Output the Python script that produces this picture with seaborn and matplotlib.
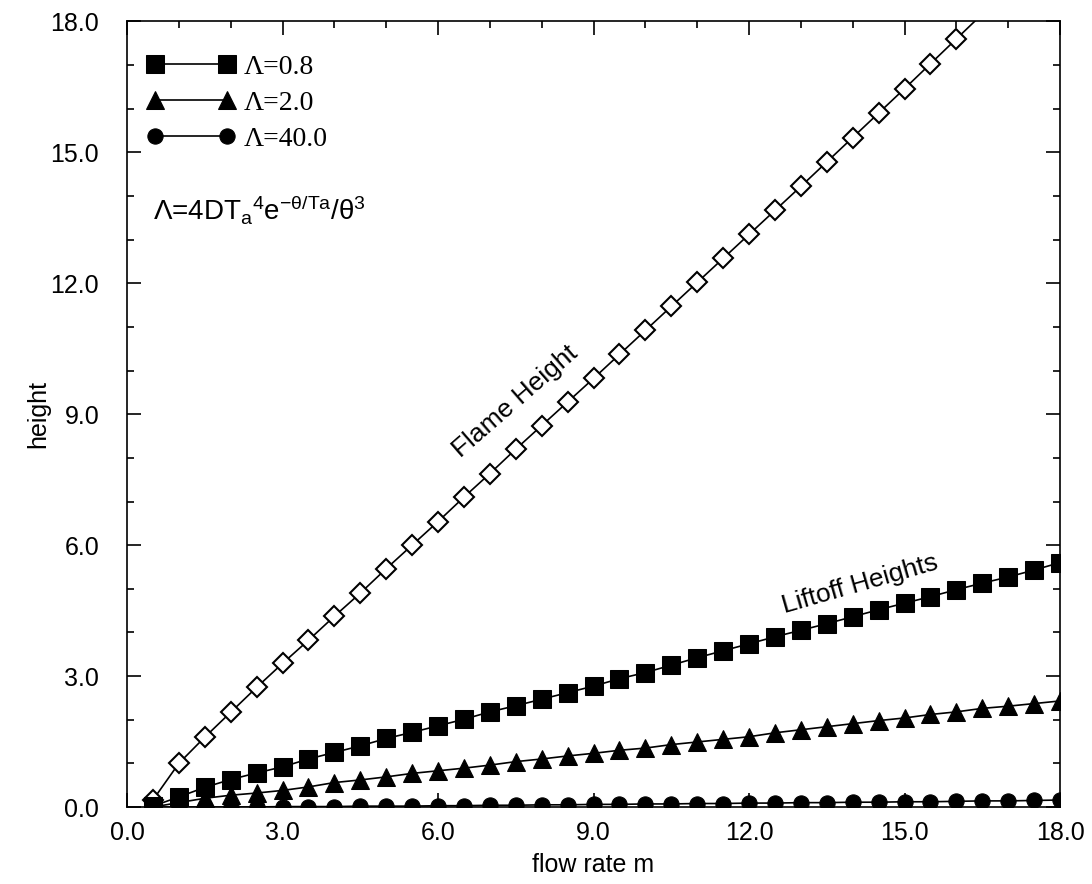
import numpy as np
import pandas as pd
import matplotlib
matplotlib.use('Agg')
import matplotlib.pyplot as plt
import seaborn as sns
from matplotlib.ticker import MultipleLocator, FormatStrFormatter

# flow rate grid (every 0.5)
flow_rate = [0.5, 1.0, 1.5, 2.0, 2.5, 3.0, 3.5, 4.0, 4.5, 5.0, 5.5, 6.0,
             6.5, 7.0, 7.5, 8.0, 8.5, 9.0, 9.5, 10.0, 10.5, 11.0, 11.5, 12.0,
             12.5, 13.0, 13.5, 14.0, 14.5, 15.0, 15.5, 16.0, 16.5, 17.0, 17.5, 18.0]

# flame height (runs off the top of the plot after 16.0)
flame_height = [0.16, 1.00, 1.60, 2.17, 2.74, 3.29, 3.82, 4.37, 4.90, 5.46, 6.00,
                6.54, 7.10, 7.64, 8.20, 8.74, 9.28, 9.82, 10.37, 10.92, 11.47,
                12.02, 12.57, 13.12, 13.67, 14.22, 14.78, 15.34, 15.90, 16.46,
                17.03, 17.60, 18.17]

# liftoff heights
lift_08 = [0.02, 0.23, 0.45, 0.63, 0.78, 0.92, 1.10, 1.25, 1.40, 1.57, 1.71, 1.86,
           2.01, 2.18, 2.32, 2.47, 2.62, 2.77, 2.94, 3.08, 3.25, 3.42, 3.58, 3.74,
           3.90, 4.05, 4.20, 4.36, 4.52, 4.67, 4.82, 4.98, 5.13, 5.27, 5.43, 5.60]
lift_20 = [0.00, 0.10, 0.20, 0.27, 0.32, 0.38, 0.46, 0.56, 0.62, 0.69, 0.77, 0.83,
           0.89, 0.96, 1.04, 1.10, 1.17, 1.23, 1.30, 1.35, 1.43, 1.49, 1.55, 1.61,
           1.70, 1.77, 1.84, 1.91, 1.98, 2.04, 2.12, 2.18, 2.26, 2.31, 2.37, 2.43]
lift_400 = [0.00, 0.00, 0.00, 0.00, 0.00, 0.01, 0.01, 0.01, 0.02, 0.02, 0.02, 0.03,
            0.03, 0.04, 0.04, 0.05, 0.05, 0.06, 0.06, 0.07, 0.07, 0.08, 0.08, 0.09,
            0.09, 0.10, 0.10, 0.11, 0.11, 0.12, 0.12, 0.13, 0.14, 0.14, 0.15, 0.16]

series_labels = ['Λ=0.8', 'Λ=2.0', 'Λ=40.0']

sns.set_style('ticks')
plt.rcParams['font.family'] = ['Liberation Sans', 'DejaVu Sans']
plt.rcParams['mathtext.fontset'] = 'custom'
plt.rcParams['mathtext.rm'] = 'Liberation Sans'
plt.rcParams['mathtext.it'] = 'Liberation Sans'
plt.rcParams['text.color'] = 'black'
plt.rcParams['axes.labelcolor'] = 'black'
plt.rcParams['axes.edgecolor'] = 'black'
plt.rcParams['xtick.color'] = 'black'
plt.rcParams['ytick.color'] = 'black'

df_flame = pd.DataFrame({'m': flow_rate[:len(flame_height)], 'h': flame_height})
df_lift = pd.DataFrame({
    'm': flow_rate * 3,
    'h': lift_08 + lift_20 + lift_400,
    'Lambda': [series_labels[0]] * 36 + [series_labels[1]] * 36 + [series_labels[2]] * 36,
})

fig = plt.figure(figsize=(10.92, 8.84), dpi=100)
ax = fig.add_axes([0.1163, 0.0871, 0.8544, 0.8886])

# flame height: open diamonds, last point is off the top so no marker there
sns.lineplot(data=df_flame, x='m', y='h', ax=ax, color='black', linewidth=1.2,
             marker='D', markersize=10, markerfacecolor='white',
             markeredgecolor='black', markeredgewidth=1.5,
             markevery=list(range(len(flame_height) - 1)), legend=False)

markers = {series_labels[0]: ('s', 13), series_labels[1]: ('^', 13), series_labels[2]: ('o', 11)}
for lab in series_labels:
    sub = df_lift[df_lift['Lambda'] == lab]
    mk, ms = markers[lab]
    sns.lineplot(data=sub, x='m', y='h', ax=ax, color='black', linewidth=1.2,
                 marker=mk, markersize=ms, markeredgecolor='black',
                 markerfacecolor='black', label=lab)

ax.set_xlim(0, 18)
ax.set_ylim(0, 18)
ax.xaxis.set_major_locator(MultipleLocator(3))
ax.yaxis.set_major_locator(MultipleLocator(3))
ax.xaxis.set_minor_locator(MultipleLocator(1))
ax.yaxis.set_minor_locator(MultipleLocator(1))
ax.xaxis.set_major_formatter(FormatStrFormatter('%.1f'))
ax.yaxis.set_major_formatter(FormatStrFormatter('%.1f'))
ax.tick_params(which='both', direction='in', top=True, right=True, labelsize=18, width=1.2)
ax.tick_params(which='major', length=10)
ax.tick_params(which='minor', length=5)
ax.tick_params(axis='x', pad=10)
ax.tick_params(axis='y', pad=20)
for sp in ax.spines.values():
    sp.set_linewidth(1.2)

ax.set_xlabel('flow rate m', fontsize=18, labelpad=6)
ax.set_ylabel('height', fontsize=18, labelpad=0)

ax.text(7.5, 9.3, 'Flame Height', fontsize=19, rotation=41, ha='center', va='center')
ax.text(14.15, 5.1, 'Liftoff Heights', fontsize=19, rotation=16, ha='center', va='center')
ax.text(0.5, 13.7, r'Λ=4DT$_{a}$$^{4}$e$^{-θ/Ta}$/θ$^{3}$', fontsize=20, ha='left', va='center')

ax.legend(loc='upper left', bbox_to_anchor=(-0.006, 0.99), frameon=False, numpoints=2,
          handlelength=3.2, handletextpad=0.3, labelspacing=0.38, borderaxespad=0.5,
          prop={'family': 'Liberation Serif', 'size': 20})

plt.savefig('out.png', dpi=100)
plt.close()
